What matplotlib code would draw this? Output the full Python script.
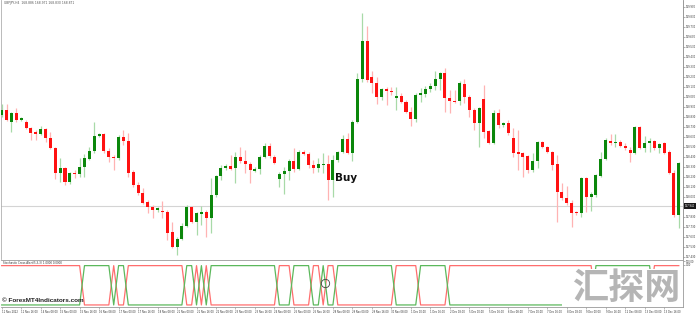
import numpy as np
import matplotlib.pyplot as plt
from matplotlib.patches import Rectangle

plt.rcParams['font.family'] = ['DejaVu Sans']

# H4 candles
opens = [168.85, 168.90, 168.78, 168.87, 168.80, 168.78, 168.72, 168.68, 168.66, 168.71,
         168.62, 168.52, 168.27, 168.32, 168.18, 168.27, 168.26, 168.33, 168.41, 168.49,
         168.64, 168.66, 168.49, 168.43, 168.42, 168.63, 168.59, 168.28, 168.15, 168.07,
         167.98, 167.93, 167.90, 167.89, 167.88, 167.68, 167.53, 167.61, 167.74, 167.93,
         167.78, 167.86, 167.88, 167.82, 168.05, 168.24, 168.32, 168.34, 168.32, 168.43,
         168.39, 168.36, 168.29, 168.31, 168.43, 168.54, 168.43, 168.21, 168.26, 168.29,
         168.39, 168.31, 168.48, 168.46, 168.35, 168.32, 168.35, 168.36, 168.20, 168.40,
         168.48, 168.61, 168.47, 168.78, 169.21, 169.59, 169.23, 169.17, 169.03, 169.11,
         169.09, 169.02, 169.04, 168.98, 168.88, 168.81, 169.05, 169.06, 169.11, 169.14,
         169.21, 169.27, 169.02, 168.99, 168.99, 169.16, 169.03, 168.90, 168.77, 169.01,
         168.69, 168.57, 168.87, 168.75, 168.77, 168.62, 168.48, 168.47, 168.44, 168.30,
         168.39, 168.58, 168.53, 168.48, 168.36, 168.08, 168.02, 167.97, 167.88, 167.87,
         168.22, 168.03, 168.05, 168.24, 168.41, 168.59, 168.57, 168.58, 168.54, 168.50,
         168.47, 168.73, 168.52, 168.57, 168.59, 168.52, 168.57, 168.48, 168.27, 167.85]
highs = [168.96, 168.96, 168.88, 168.92, 168.83, 168.80, 168.73, 168.70, 168.74, 168.72,
         168.68, 168.53, 168.42, 168.33, 168.28, 168.30, 168.42, 168.46, 168.53, 168.78,
         168.67, 168.67, 168.52, 168.45, 168.65, 168.70, 168.67, 168.30, 168.18, 168.12,
         168.00, 167.95, 167.93, 167.99, 167.90, 167.78, 167.63, 167.77, 167.95, 167.94,
         167.88, 167.94, 167.90, 168.22, 168.25, 168.35, 168.36, 168.45, 168.48, 168.53,
         168.50, 168.38, 168.33, 168.45, 168.57, 168.57, 168.45, 168.28, 168.33, 168.41,
         168.52, 168.50, 168.50, 168.48, 168.40, 168.42, 168.47, 168.45, 168.45, 168.49,
         168.65, 168.67, 168.80, 169.27, 169.87, 169.74, 169.29, 169.23, 169.12, 169.13,
         169.13, 169.13, 169.07, 169.00, 168.93, 169.07, 169.12, 169.14, 169.17, 169.29,
         169.28, 169.32, 169.10, 169.10, 169.19, 169.21, 169.05, 168.92, 168.93, 169.15,
         168.70, 168.90, 168.91, 168.78, 168.80, 168.72, 168.70, 168.48, 168.45, 168.47,
         168.59, 168.59, 168.54, 168.49, 168.45, 168.17, 168.14, 168.00, 167.89, 168.23,
         168.23, 168.08, 168.26, 168.48, 168.62, 168.66, 168.66, 168.60, 168.57, 168.53,
         168.74, 168.74, 168.64, 168.62, 168.60, 168.57, 168.58, 168.50, 168.30, 168.38]
lows = [168.83, 168.79, 168.68, 168.78, 168.79, 168.71, 168.60, 168.60, 168.65, 168.58,
        168.51, 168.21, 168.18, 168.15, 168.16, 168.22, 168.23, 168.23, 168.40, 168.47,
        168.63, 168.47, 168.38, 168.30, 168.40, 168.55, 168.23, 168.13, 168.05, 167.96,
        167.87, 167.82, 167.88, 167.82, 167.60, 167.52, 167.45, 167.60, 167.73, 167.77,
        167.65, 167.75, 167.63, 167.67, 168.03, 168.20, 168.30, 168.30, 168.17, 168.37,
        168.27, 168.17, 168.28, 168.26, 168.42, 168.42, 168.36, 168.13, 168.06, 168.20,
        168.28, 168.30, 168.45, 168.32, 168.27, 168.28, 168.27, 168.00, 168.03, 168.38,
        168.47, 168.46, 168.39, 168.77, 169.18, 169.18, 169.07, 168.96, 169.00, 168.95,
        169.05, 168.90, 168.97, 168.87, 168.74, 168.78, 168.98, 169.03, 169.08, 169.10,
        169.10, 168.88, 168.87, 168.97, 168.95, 168.97, 168.83, 168.70, 168.53, 168.62,
        168.56, 168.56, 168.72, 168.73, 168.65, 168.43, 168.30, 168.23, 168.27, 168.28,
        168.32, 168.52, 168.47, 168.30, 167.78, 168.00, 167.95, 167.73, 167.85, 167.83,
        167.88, 167.89, 168.03, 168.23, 168.40, 168.55, 168.53, 168.53, 168.50, 168.38,
        168.46, 168.51, 168.48, 168.48, 168.50, 168.47, 168.46, 168.26, 167.83, 167.72]
closes = [168.90, 168.80, 168.87, 168.80, 168.82, 168.72, 168.67, 168.66, 168.71, 168.62,
          168.52, 168.27, 168.32, 168.18, 168.27, 168.26, 168.33, 168.42, 168.49, 168.64,
          168.66, 168.49, 168.43, 168.42, 168.63, 168.59, 168.27, 168.15, 168.07, 167.97,
          167.93, 167.90, 167.92, 167.88, 167.67, 167.53, 167.61, 167.74, 167.93, 167.78,
          167.87, 167.88, 167.82, 168.05, 168.24, 168.32, 168.34, 168.31, 168.43, 168.39,
          168.36, 168.30, 168.31, 168.43, 168.54, 168.44, 168.37, 168.26, 168.29, 168.39,
          168.31, 168.48, 168.46, 168.35, 168.32, 168.36, 168.36, 168.20, 168.40, 168.48,
          168.61, 168.47, 168.78, 169.21, 169.59, 169.20, 169.17, 169.03, 169.11, 169.09,
          169.08, 169.04, 168.98, 168.88, 168.81, 169.05, 169.07, 169.11, 169.14, 169.21,
          169.27, 169.02, 168.99, 168.98, 169.17, 169.03, 168.90, 168.77, 168.92, 168.68,
          168.57, 168.87, 168.75, 168.77, 168.67, 168.47, 168.46, 168.43, 168.30, 168.39,
          168.58, 168.53, 168.48, 168.35, 168.08, 168.02, 167.97, 167.87, 167.87, 168.22,
          168.03, 168.06, 168.25, 168.41, 168.60, 168.57, 168.58, 168.54, 168.52, 168.47,
          168.73, 168.52, 168.57, 168.59, 168.52, 168.56, 168.47, 168.27, 167.85, 168.37]

# indicator window: which line is on top (G = green, R = red), as runs of bars
signal_runs = [('R', 17), ('G', 6), ('R', 1), ('G', 2), ('R', 12), ('G', 2), ('R', 1),
               ('G', 1), ('R', 1), ('G', 14), ('R', 3), ('G', 4), ('R', 2), ('G', 1),
               ('R', 2), ('G', 12), ('R', 5), ('G', 6), ('R', 30), ('G', 12), ('R', 6)]

date_labels = ['11 Nov 2022', '11 Nov 16:00', '14 Nov 08:00', '15 Nov 00:00', '15 Nov 16:00',
               '16 Nov 08:00', '17 Nov 00:00', '17 Nov 16:00', '18 Nov 08:00', '21 Nov 00:00',
               '21 Nov 16:00', '22 Nov 08:00', '23 Nov 00:00', '23 Nov 16:00', '24 Nov 08:00',
               '25 Nov 00:00', '25 Nov 16:00', '28 Nov 08:00', '29 Nov 00:00', '29 Nov 16:00',
               '30 Nov 08:00', '1 Dec 00:00', '1 Dec 16:00', '2 Dec 08:00', '5 Dec 00:00',
               '5 Dec 16:00', '6 Dec 08:00', '7 Dec 00:00', '7 Dec 16:00', '8 Dec 08:00',
               '9 Dec 00:00', '9 Dec 16:00', '12 Dec 08:00', '13 Dec 00:00', '13 Dec 16:00']
price_ticks = np.round(np.arange(167.43, 169.94, 0.10), 2)
current_price = 167.94
buy_bar, buy_price = 68.5, 168.19

o, h, l, c = map(np.array, (opens, highs, lows, closes))
x = np.arange(len(o))
up = c >= o

fig = plt.figure(figsize=(6.96, 3.13), dpi=100)
ax = fig.add_axes([0.001, 1 - 259 / 313, 682 / 696, 259 / 313])
ax2 = fig.add_axes([0.001, 6 / 313, 682 / 696, 47 / 313])

# candles
ax.axhline(current_price, color='#d4d4d4', lw=0.8, zorder=1)
ax.vlines(x, l, h, colors=np.where(up, '#a8daa8', '#ffb3b3'), lw=0.9, zorder=2)
ax.bar(x, np.maximum(np.abs(c - o), 0.012), bottom=np.minimum(o, c), width=0.62,
       color=np.where(up, '#0b870b', '#ff1111'), lw=0, zorder=3)
ax.text(buy_bar, buy_price, 'Buy', fontsize=7.5, fontweight='bold', color='#111111',
        ha='left', va='baseline', zorder=4)

ax.set_xlim(-0.2, 139.8)
ax.set_ylim(167.41, 170.0)
ax.set_xticks([])
ax.yaxis.tick_right()
ax.set_yticks(price_ticks)
ax.set_yticklabels([f'{v:.3f}' for v in price_ticks])
ax.tick_params(axis='y', labelsize=1.8, length=1.5, width=0.4, pad=0.6,
               colors='#777777', labelcolor='#333333')
ax.spines['top'].set_visible(False)
ax.spines['bottom'].set_visible(False)
ax.spines['left'].set_color('#b0b0b0')
ax.spines['right'].set_color('#888888')
for s in ax.spines.values():
    s.set_linewidth(0.6)
ax.text(1.003, current_price, f'{current_price:.3f}', transform=ax.get_yaxis_transform(),
        fontsize=1.8, color='white', ha='left', va='center', clip_on=False,
        bbox=dict(boxstyle='square,pad=0.35', fc='#1a1a1a', ec='none'))
ax.text(0.005, 0.997, 'GBPJPY,H4  168.886 168.971 168.830 168.871', transform=ax.transAxes,
        fontsize=2.2, color='#555555', ha='left', va='top')

# indicator window
green_top = np.concatenate([np.full(k, s == 'G') for s, k in signal_runs])
green_line = np.where(green_top, 100, 0)
red_line = 100 - green_line
ax2.plot(x, red_line, color='#ff6e6e', lw=0.9)
ax2.plot(x, green_line, color='#5cb85c', lw=0.9)
ax2.plot(66.4, 57, marker='o', ms=6, mfc='none', mec='#444444', mew=0.6)
ax2.set_xlim(-0.2, 139.8)
ax2.set_ylim(-5.2, 114.3)
ax2.yaxis.tick_right()
ax2.set_yticks([111, 102])
ax2.set_yticklabels(['100.00', '0.00'])
ax2.tick_params(axis='y', labelsize=1.8, length=1.5, width=0.4, pad=0.6,
                colors='#777777', labelcolor='#333333')
ax2.set_xticks(np.arange(0, len(x), 4))
ax2.set_xticklabels(date_labels, ha='left')
ax2.tick_params(axis='x', labelsize=1.8, length=1.5, width=0.4, pad=0.8,
                colors='#888888', labelcolor='#333333')
ax2.spines['left'].set_visible(False)
for s in ('top', 'right', 'bottom'):
    ax2.spines[s].set_color('#999999')
    ax2.spines[s].set_linewidth(0.6)
ax2.text(0.003, 0.97, 'Stochastic Cross Alert(5,3,3) 1.0000 0.0000', transform=ax2.transAxes,
         fontsize=2.0, color='#333333', ha='left', va='top')

# watermarks
fig.add_artist(Rectangle((562 / 696, 7 / 313), 119 / 696, 37 / 313, transform=fig.transFigure,
                         fc='white', ec='none', zorder=5))
fig.text(626 / 696, 1 - 289 / 313, '汇探网', fontsize=26, fontweight='bold', color='#b5b5b5',
         family=['Noto Sans CJK SC', 'DejaVu Sans'], ha='center', va='center', zorder=6)
fig.text(2 / 696, 1 - 301 / 313, '© ForexMT4Indicators.com', fontsize=4.6, fontweight='bold',
         color='#222222', family=['Liberation Sans Narrow', 'Liberation Sans', 'DejaVu Sans'],
         ha='left', va='center', zorder=6)

fig.savefig('out.png', dpi=100)
